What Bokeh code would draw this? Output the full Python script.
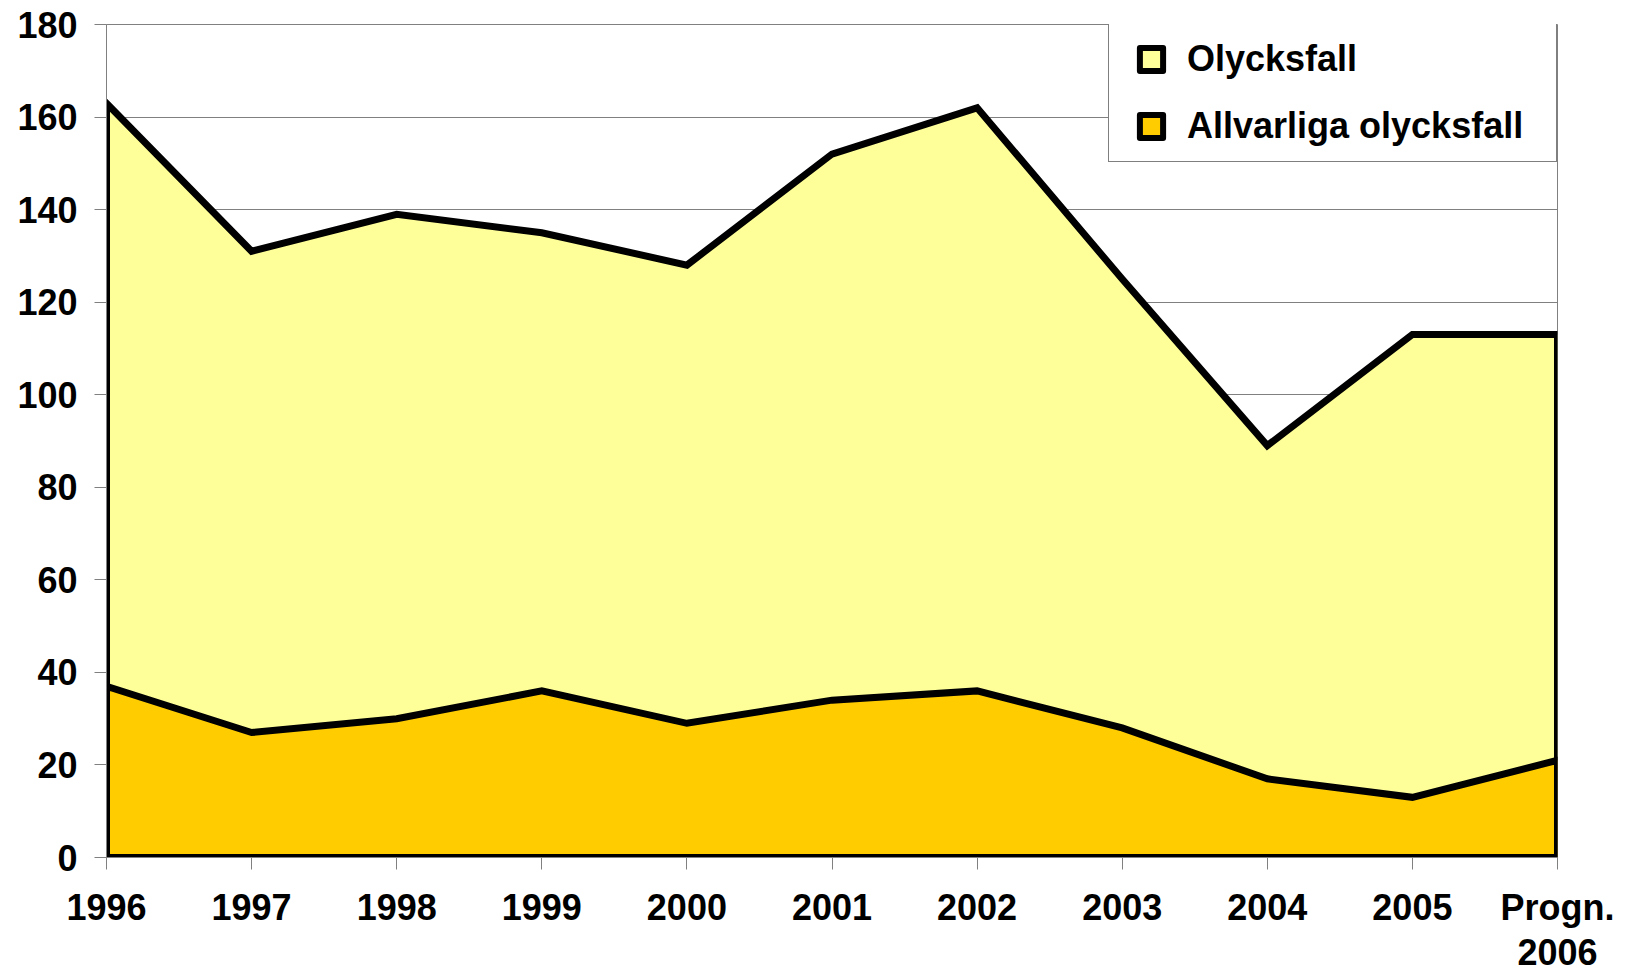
from bokeh.plotting import figure
from bokeh.models import Range1d, FixedTicker, Legend, LegendItem
from bokeh.embed import file_html
from bokeh.resources import INLINE

# ---- data ----
categories = ["1996", "1997", "1998", "1999", "2000", "2001", "2002",
              "2003", "2004", "2005", "Progn.\n2006"]
olycksfall = [163, 131, 139, 135, 128, 152, 162, 125, 89, 113, 113]
allvarliga = [37, 27, 30, 36, 29, 34, 36, 28, 17, 13, 21]
y_ticks = [0, 20, 40, 60, 80, 100, 120, 140, 160, 180]

series_names = ["Olycksfall", "Allvarliga olycksfall"]
colors = ["#FFFF99", "#FFCC00"]

FONT = "Liberation Sans"
x = list(range(len(categories)))
n = len(x)

p = figure(width=1629, height=975, output_backend="svg", toolbar_location=None,
           x_range=Range1d(0, n - 1), y_range=Range1d(y_ticks[0], y_ticks[-1]),
           min_border_left=106, min_border_right=72, min_border_top=24,
           min_border_bottom=118)

# areas (drawn as closed polygons down to zero)
for vals, col in [(olycksfall, colors[0]), (allvarliga, colors[1])]:
    p.patch(x + x[::-1], vals + [0] * n, fill_color=col, line_color="black",
            line_width=7, line_join="miter")

# legend proxies (placed below the visible range, only their legend swatch shows)
hidden_y = y_ticks[0] - y_ticks[-1]
proxies = []
for col in colors:
    r = p.scatter(x=[x[0]], y=[hidden_y], marker="square", size=23, fill_color=col,
                  line_color="black", line_width=6, line_join="round")
    proxies.append(r)

legend = Legend(items=[LegendItem(label=nm, renderers=[r]) for nm, r in zip(series_names, proxies)],
                location=(1002, 695), orientation="vertical",
                label_text_font=FONT, label_text_font_style="bold",
                label_text_font_size="36px", label_text_color="black",
                glyph_width=72, glyph_height=58, label_standoff=0,
                label_width=363, padding=6, spacing=9, margin=0,
                border_line_color="black", border_line_width=1,
                background_fill_color="white", background_fill_alpha=1)
p.add_layout(legend)

# axes
for ax in (p.xaxis[0], p.yaxis[0]):
    ax.axis_line_color = "#808080"
    ax.axis_line_width = 1
    ax.major_tick_line_color = "#808080"
    ax.major_tick_line_width = 1
    ax.major_tick_out = 12
    ax.major_tick_in = 0
    ax.minor_tick_line_color = None
    ax.major_label_text_font = FONT
    ax.major_label_text_font_style = "bold"
    ax.major_label_text_font_size = "36px"
    ax.major_label_text_color = "black"

p.xaxis.ticker = FixedTicker(ticks=x)
p.xaxis.major_label_overrides = {i: c for i, c in enumerate(categories)}
p.xaxis.major_label_standoff = 17
p.xaxis.major_label_text_line_height = 1.1
p.yaxis.ticker = FixedTicker(ticks=y_ticks)
p.yaxis.major_label_standoff = 17

p.xgrid.visible = False
p.ygrid.ticker = FixedTicker(ticks=y_ticks)
p.ygrid.grid_line_color = "#808080"
p.ygrid.grid_line_width = 1

p.outline_line_color = "#808080"
p.outline_line_width = 1
p.background_fill_color = "white"
p.border_fill_color = "white"

open("out.html", "w").write(file_html(p, INLINE))
